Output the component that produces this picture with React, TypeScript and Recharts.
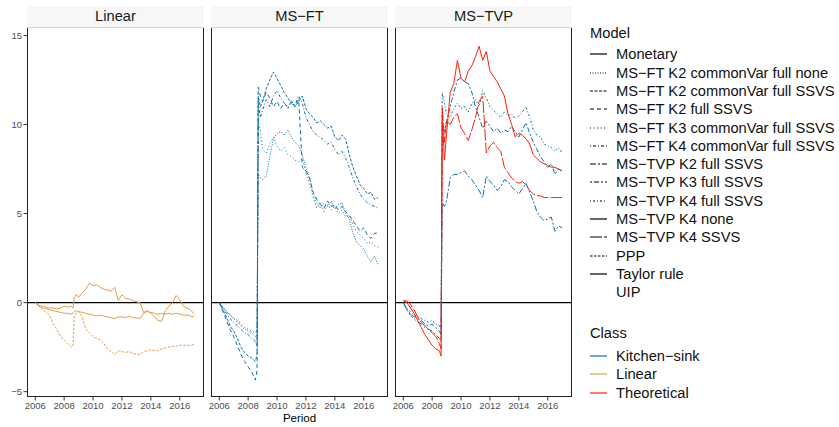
import React from 'react';
import { LineChart, Line, XAxis, YAxis, ReferenceLine } from 'recharts';

// quarterly periods, with extra points around the Sep 2008 break
const period = [
  2006, 2006.25, 2006.5, 2006.75, 2007, 2007.25, 2007.5, 2007.75, 2008, 2008.25, 2008.5, 2008.62,
  2008.7, 2008.85, 2009, 2009.25, 2009.5, 2009.75, 2010, 2010.25, 2010.5, 2010.75, 2011, 2011.25,
  2011.5, 2011.75, 2012, 2012.25, 2012.5, 2012.75, 2013, 2013.25, 2013.5, 2013.75, 2014, 2014.25,
  2014.5, 2014.75, 2015, 2015.25, 2015.5, 2015.75, 2016, 2016.25, 2016.5, 2016.75, 2017,
];

const yearTicks = [2006, 2008, 2010, 2012, 2014, 2016];
const valueTicks = [-5, 0, 5, 10, 15];

const panelNames = ['Linear', 'MS−FT', 'MS−TVP'];

const modelNames = [
  'Monetary',
  'MS−FT K2 commonVar full none',
  'MS−FT K2 commonVar full SSVS',
  'MS−FT K2 full SSVS',
  'MS−FT K3 commonVar full SSVS',
  'MS−FT K4 commonVar full SSVS',
  'MS−TVP K2 full SSVS',
  'MS−TVP K3 full SSVS',
  'MS−TVP K4 full SSVS',
  'MS−TVP K4 none',
  'MS−TVP K4 SSVS',
  'PPP',
  'Taylor rule',
  'UIP',
];

const classNames = ['Kitchen−sink', 'Linear', 'Theoretical'];

// Linear panel
const linMonetary = [0.0, -0.15, -0.2, -0.25, -0.3, -0.3, -0.35, -0.3, -0.2, -0.25, -0.2, -0.3,
  0.3, 0.45, 0.3, 0.55, 0.75, 1.1, 0.95, 1.0, 0.85, 0.75, 0.7, 0.65, 0.85, 0.1, 0.45, 0.25, 0.2, 0.1,
  0.05, 0.0, -0.55, -0.45, -0.6, -0.8, -1.0, -1.05, -0.45, -0.2, 0.0, 0.4, 0.15, -0.2, -0.3, -0.4, -0.65];
const linTaylor = [0.0, -0.2, -0.3, -0.35, -0.4, -0.45, -0.5, -0.55, -0.6, -0.6, -0.65, -0.6,
  -0.5, -0.45, -0.5, -0.55, -0.6, -0.65, -0.7, -0.75, -0.7, -0.75, -0.8, -0.85, -0.9, -0.8, -0.8, -0.85,
  -0.75, -0.85, -0.85, -0.9, -0.6, -0.5, -0.55, -0.6, -0.65, -0.6, -0.65, -0.6, -0.65, -0.6, -0.65,
  -0.7, -0.7, -0.75, -0.8];
const linPPP = [0.0, -0.2, -0.4, -0.55, -0.7, -1.2, -1.5, -1.9, -2.1, -2.3, -2.5, -2.4,
  -0.7, -0.6, -0.5, -0.8, -1.5, -1.7, -1.9, -2.0, -2.1, -2.3, -2.6, -2.75, -2.9, -2.7, -2.75, -2.8,
  -2.75, -2.85, -2.9, -2.9, -2.75, -2.7, -2.65, -2.7, -2.7, -2.6, -2.55, -2.5, -2.45, -2.45, -2.4,
  -2.4, -2.4, -2.4, -2.35];

// MS-FT panel
const ftK2full = [0, -0.5, -1.0, -1.5, -1.9, -2.4, -2.9, -3.3, -3.6, -3.9, -4.35, -3.8,
  12.1, 11.6, 11.3, 11.8, 11.5, 11.0, 11.3, 10.9, 11.2, 11.0, 11.3, 11.0, 11.4, 7.6, 7.4, 7.0, 6.2,
  5.8, 5.5, 5.3, 5.7, 5.4, 5.5, 5.2, 5.4, 5.1, 4.9, 4.6, 4.3, 4.0, 4.2, 3.8, 3.6, 3.9, 3.9];
const ftK2cvSSVS = [0, -0.4, -0.8, -1.3, -1.6, -2.0, -2.5, -2.8, -3.0, -3.1, -3.3, -2.9,
  11.6, 11.0, 11.3, 12.0, 12.5, 12.95, 12.6, 12.2, 11.8, 11.5, 11.2, 11.0, 11.3, 11.6, 10.9, 10.6,
  10.4, 10.1, 10.2, 10.0, 9.8, 9.9, 9.3, 9.1, 9.4, 9.2, 8.3, 7.6, 7.1, 6.6, 6.4, 6.1, 6.2, 5.8, 5.9];
const ftK4cv = [0, -0.3, -0.6, -0.9, -1.1, -1.3, -1.5, -1.7, -1.8, -2.0, -2.2, -2.4,
  11.2, 10.4, 10.8, 11.4, 11.0, 11.6, 11.9, 11.5, 11.2, 10.9, 11.3, 11.1, 11.6, 11.2, 10.4, 10.0,
  9.6, 9.4, 9.3, 9.1, 8.9, 9.0, 8.6, 8.3, 8.5, 8.1, 7.6, 7.0, 6.5, 6.1, 5.8, 5.6, 5.5, 5.4, 5.3];
const ftK2cvNone = [0, -0.3, -0.5, -0.7, -0.9, -1.1, -1.3, -1.5, -1.6, -1.7, -1.9, -2.0,
  7.2, 7.0, 6.9, 7.1, 8.2, 9.2, 9.5, 9.6, 9.4, 9.7, 9.3, 9.0, 8.8, 8.3, 7.6, 7.0, 6.1, 5.6, 5.3,
  5.6, 5.4, 5.7, 5.3, 5.5, 5.6, 5.0, 4.7, 3.9, 3.4, 3.2, 3.0, 2.6, 2.3, 2.6, 2.1];
const ftK3cv = [0, -0.25, -0.45, -0.7, -0.85, -1.0, -1.2, -1.4, -1.5, -1.6, -1.7, -1.5,
  10.3, 9.6, 8.6, 8.4, 8.9, 9.3, 8.8, 8.5, 8.7, 8.3, 8.2, 8.0, 7.9, 8.1, 7.3, 6.6, 5.9, 5.3, 5.6,
  5.1, 5.5, 5.2, 5.4, 5.0, 5.2, 4.8, 4.9, 4.4, 4.0, 3.8, 3.6, 3.3, 3.4, 3.2, 3.1];

// MS-TVP panel
const tvpK2 = [0, -0.4, -0.7, -0.9, -1.1, -1.2, -1.4, -1.5, -1.6, -1.8, -2.0, -2.1,
  5.6, 5.4, 5.7, 7.0, 7.2, 7.2, 7.3, 7.4, 7.1, 6.9, 6.6, 6.3, 5.9, 7.1, 6.8, 6.6, 6.3, 6.5, 6.9,
  6.8, 6.5, 6.3, 6.1, 6.4, 6.7, 6.2, 5.7, 5.1, 4.8, 4.6, 4.7, 4.8, 4.0, 4.3, 4.2];
const tvpK3 = [0, -0.4, -0.6, -0.8, -0.9, -1.0, -1.2, -1.3, -1.2, -1.4, -1.6, -1.8,
  10.0, 9.6, 10.2, 11.0, 11.8, 12.5, 12.6, 12.4, 12.3, 11.8, 11.0, 10.4, 9.8, 10.2, 9.9, 9.6, 9.8,
  9.5, 9.7, 9.6, 9.9, 9.6, 9.3, 9.7, 10.1, 9.5, 9.0, 8.6, 8.2, 7.9, 7.6, 7.8, 7.2, 7.5, 7.4];
const tvpK4full = [0, -0.3, -0.5, -0.7, -0.8, -0.9, -1.0, -1.1, -1.0, -1.2, -1.3, -1.5,
  11.8, 11.2, 10.6, 10.4, 10.9, 11.2, 10.9, 11.0, 10.7, 11.2, 11.4, 11.0, 11.9, 11.5, 11.0, 10.8,
  10.6, 10.4, 10.7, 10.5, 10.6, 10.3, 10.5, 10.7, 11.0, 10.4, 9.7, 9.4, 9.3, 8.9, 8.8, 8.7, 8.5, 8.7, 8.4];
const tvpK4none = [0.1, 0.0, -0.3, -0.6, -1.0, -1.4, -1.8, -2.1, -2.4, -2.6, -2.7, -3.0,
  10.5, 8.0, 9.5, 11.8, 12.3, 13.6, 12.6, 12.4, 13.0, 13.3, 13.8, 14.4, 13.6, 14.1, 13.0, 12.7, 12.4,
  12.0, 11.6, 10.6, 10.0, 9.3, 9.5, 9.4, 9.2, 8.9, 8.3, 8.1, 7.9, 7.8, 7.7, 7.6, 7.6, 7.5, 7.4];
const tvpK4ssvs = [0.1, 0.1, -0.1, -0.4, -0.8, -1.1, -1.3, -1.5, -1.7, -1.9, -2.3, -2.6,
  11.0, 9.0, 10.2, 10.0, 10.4, 10.6, 9.8, 9.5, 9.1, 9.7, 10.4, 11.3, 11.6, 8.4, 8.8, 9.0, 8.7, 8.5,
  7.6, 7.3, 7.0, 6.8, 6.7, 6.8, 6.6, 6.3, 6.1, 6.0, 6.0, 5.9, 5.9, 5.9, 5.9, 5.9, 5.9];

const seriesList = [
  { panel: 'Linear', model: 'Monetary', cls: 'Linear', values: linMonetary },
  { panel: 'Linear', model: 'Taylor rule', cls: 'Linear', values: linTaylor },
  { panel: 'Linear', model: 'PPP', cls: 'Linear', values: linPPP },
  { panel: 'MS−FT', model: 'MS−FT K2 full SSVS', cls: 'Kitchen−sink', values: ftK2full },
  { panel: 'MS−FT', model: 'MS−FT K2 commonVar full SSVS', cls: 'Kitchen−sink', values: ftK2cvSSVS },
  { panel: 'MS−FT', model: 'MS−FT K4 commonVar full SSVS', cls: 'Kitchen−sink', values: ftK4cv },
  { panel: 'MS−FT', model: 'MS−FT K2 commonVar full none', cls: 'Kitchen−sink', values: ftK2cvNone },
  { panel: 'MS−FT', model: 'MS−FT K3 commonVar full SSVS', cls: 'Kitchen−sink', values: ftK3cv },
  { panel: 'MS−TVP', model: 'MS−TVP K2 full SSVS', cls: 'Kitchen−sink', values: tvpK2 },
  { panel: 'MS−TVP', model: 'MS−TVP K3 full SSVS', cls: 'Kitchen−sink', values: tvpK3 },
  { panel: 'MS−TVP', model: 'MS−TVP K4 full SSVS', cls: 'Kitchen−sink', values: tvpK4full },
  { panel: 'MS−TVP', model: 'MS−TVP K4 none', cls: 'Theoretical', values: tvpK4none },
  { panel: 'MS−TVP', model: 'MS−TVP K4 SSVS', cls: 'Theoretical', values: tvpK4ssvs },
];

const classColor: Record<string, string> = {
  'Kitchen−sink': '#0F6FA6',
  'Linear': '#E39E45',
  'Theoretical': '#FF1E0A',
};

// linetypes, '' = solid, null = blank
const modelDash: Record<string, string | null> = {
  'Monetary': '',
  'MS−FT K2 commonVar full none': '1 1.5',
  'MS−FT K2 commonVar full SSVS': '3 1.5',
  'MS−FT K2 full SSVS': '4 3',
  'MS−FT K3 commonVar full SSVS': '1 2.5',
  'MS−FT K4 commonVar full SSVS': '1 2 3 2',
  'MS−TVP K2 full SSVS': '6 2 2 2',
  'MS−TVP K3 full SSVS': '2 2 5 2',
  'MS−TVP K4 full SSVS': '1 2 2 2',
  'MS−TVP K4 none': '',
  'MS−TVP K4 SSVS': '12 2',
  'PPP': '2.5 1.5',
  'Taylor rule': '',
  'UIP': null,
};

const FONT = '"Liberation Sans", Arial, Helvetica, sans-serif';
const PLOT_W = 177;
const PLOT_TOP = 28;
const PLOT_H = 369;
const AXIS_H = 28;
const Y_AXIS_W = 27;
const SIDE = 12; // room for the outer tick labels
const panelLefts = [27, 211, 395];

const fmtValue = (v: number) => (v < 0 ? '\u2212' + Math.abs(v) : String(v));

function Panel({ name, left, showY }: { name: string; left: number; showY: boolean }) {
  const list = seriesList.filter((s) => s.panel === name);
  const rows = period.map((p, i) => {
    const row: Record<string, number> = { period: p };
    list.forEach((s, k) => {
      row['s' + k] = s.values[i];
    });
    return row;
  });
  const yw = showY ? Y_AXIS_W : 0;
  const ml = showY ? 0 : SIDE;

  return (
    <>
      <div
        style={{
          position: 'absolute', left, top: 6, width: PLOT_W, height: 21,
          background: '#F7F7F7', borderBottom: '1px solid #D6D6D6',
          textAlign: 'center', lineHeight: '21px', fontSize: 14.7, color: '#1A1A1A',
        }}
      >
        {name}
      </div>
      <div style={{ position: 'absolute', left: left - yw - ml, top: PLOT_TOP }}>
        <LineChart
          width={PLOT_W + yw + ml + SIDE}
          height={PLOT_H + AXIS_H}
          data={rows}
          margin={{ top: 0, right: SIDE, bottom: 0, left: ml }}
        >
          <XAxis
            type="number"
            dataKey="period"
            domain={[2005.43, 2017.68]}
            allowDataOverflow
            ticks={yearTicks}
            interval={0}
            height={AXIS_H}
            axisLine={false}
            tickSize={3.5}
            tickMargin={1.5}
            tickLine={{ stroke: '#333333' }}
            tick={{ fill: '#4D4D4D', fontSize: 9.5, fontFamily: FONT }}
          />
          <YAxis
            type="number"
            domain={[-5.3, 15.42]}
            allowDataOverflow
            ticks={valueTicks}
            interval={0}
            hide={!showY}
            width={yw}
            axisLine={false}
            tickSize={3.5}
            tickMargin={1.5}
            tickFormatter={fmtValue}
            tickLine={{ stroke: '#333333' }}
            tick={{ fill: '#4D4D4D', fontSize: 9.5, fontFamily: FONT }}
          />
          <ReferenceLine y={0} stroke="#000" strokeWidth={1.1} />
          {list.map((s, k) => (
            <Line
              key={s.model}
              type="linear"
              dataKey={'s' + k}
              stroke={classColor[s.cls]}
              strokeWidth={1}
              strokeDasharray={modelDash[s.model] || undefined}
              dot={false}
              activeDot={false}
              isAnimationActive={false}
            />
          ))}
        </LineChart>
      </div>
      <div
        style={{
          position: 'absolute', left, top: PLOT_TOP, width: PLOT_W, height: PLOT_H,
          boxSizing: 'border-box', borderLeft: '1px solid #222', borderRight: '1px solid #222',
          borderBottom: '1px solid #222', pointerEvents: 'none',
        }}
      />
    </>
  );
}

function KeyLine({ color, dash }: { color: string; dash: string | null }) {
  return (
    <svg width={17} height={10} style={{ position: 'absolute', left: 0, top: 4 }}>
      {dash !== null && (
        <line x1={0} y1={5} x2={17} y2={5} stroke={color} strokeWidth={1.2}
          strokeDasharray={dash || undefined} />
      )}
    </svg>
  );
}

function Legend() {
  const row = (label: string, center: number, color: string, dash: string | null) => (
    <div key={label} style={{ position: 'absolute', left: 590, top: center - 9, height: 18, width: 249 }}>
      <KeyLine color={color} dash={dash} />
      <span style={{ position: 'absolute', left: 26, top: 0, lineHeight: '18px', fontSize: 14.7, color: '#111', whiteSpace: 'nowrap' }}>
        {label}
      </span>
    </div>
  );
  return (
    <>
      <div style={{ position: 'absolute', left: 590, top: 23.5, lineHeight: '18px', fontSize: 14.7, color: '#111' }}>Model</div>
      {modelNames.map((m, i) => row(m, 54.3 + i * 18.3, '#000', modelDash[m]))}
      <div style={{ position: 'absolute', left: 590, top: 324, lineHeight: '18px', fontSize: 14.7, color: '#111' }}>Class</div>
      {classNames.map((c, i) => row(c, 355.5 + i * 18.5, classColor[c], ''))}
    </>
  );
}

export default function App() {
  return (
    <div
      style={{
        position: 'absolute', left: 0, top: 0, width: 839, height: 427,
        background: '#fff', fontFamily: FONT, overflow: 'hidden',
      }}
    >
      {panelNames.map((p, i) => (
        <Panel key={p} name={p} left={panelLefts[i]} showY={i === 0} />
      ))}
      <div
        style={{
          position: 'absolute', left: panelLefts[1], top: 410, width: PLOT_W,
          textAlign: 'center', lineHeight: '16px', fontSize: 11.5, color: '#000',
        }}
      >
        Period
      </div>
      <Legend />
    </div>
  );
}
